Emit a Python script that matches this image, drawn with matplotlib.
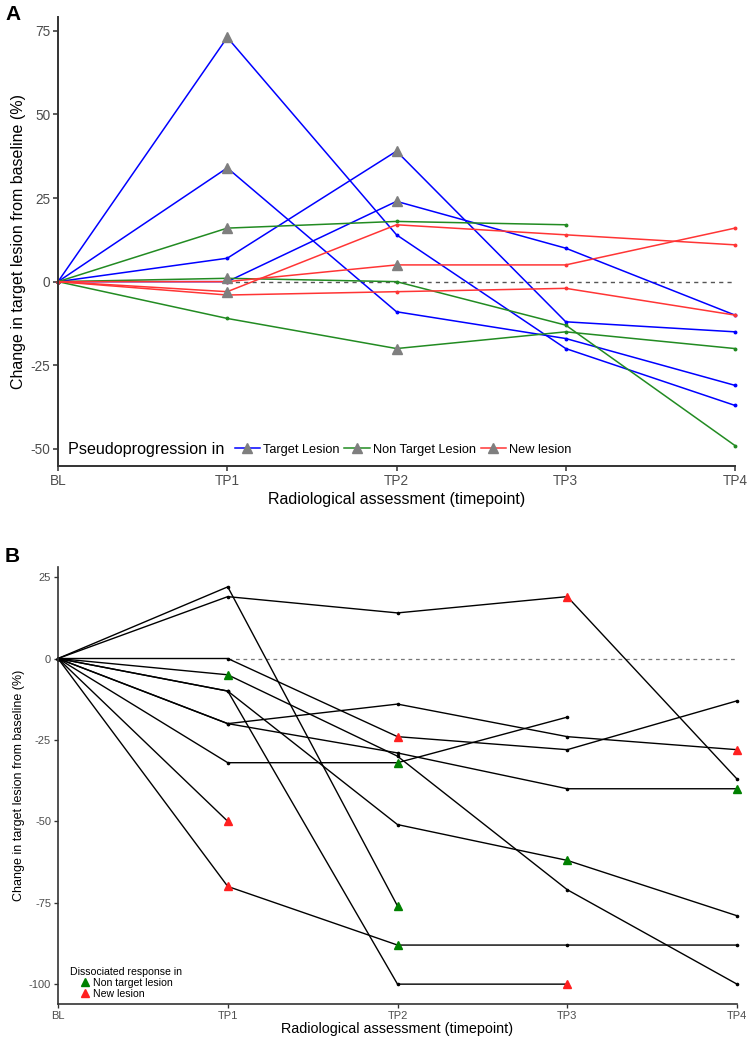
import matplotlib
matplotlib.use("Agg")
import matplotlib.pyplot as plt
from matplotlib.lines import Line2D

plt.rcParams['font.family'] = ['Liberation Sans', 'DejaVu Sans']
plt.rcParams['axes.unicode_minus'] = False

timepoints = ['BL', 'TP1', 'TP2', 'TP3', 'TP4']

# Panel A - pseudoprogression (triangle index = timepoint of pseudoprogression)
target_vals = [
    [0, 73, 14, -20, -37],
    [0, 34, -9, -17, -31],
    [0, 7, 39, -12, -15],
    [0, 0, 24, 10, -10],
]
target_tri = [[1], [1], [2], [2]]

nontarget_vals = [
    [0, 16, 18, 17],
    [0, 1, 0, -13, -49],
    [0, -11, -20, -15, -20],
]
nontarget_tri = [[1], [1], [2]]

newlesion_vals = [
    [0, -3, 17, 14, 11],
    [0, 0, 5, 5, 16],
    [0, -4, -3, -2, -10],
]
newlesion_tri = [[1], [2], []]

# Panel B - dissociated response
dissoc_vals = [
    [0, 22, -76],
    [0, 19, 14, 19, -37],
    [0, 0, -24, -28, -13],
    [0, -5, -30, -71, -100],
    [0, -10, -100, -100],
    [0, -10, -51, -62, -79],
    [0, -20, -14, -24, -28],
    [0, -20, -29, -40, -40],
    [0, -32, -32, -18],
    [0, -50],
    [0, -70, -88, -88, -88],
]
# (patient, timepoint)
dissoc_nontarget = [(0, 2), (3, 1), (5, 3), (7, 4), (8, 2), (10, 2)]
dissoc_newlesion = [(1, 3), (2, 2), (4, 3), (6, 4), (9, 1), (10, 1)]

BLUE = '#0000FF'
GREEN = '#228B22'
RED = '#FF3535'
W, H = 749, 1038

fig = plt.figure(figsize=(W / 100, H / 100), dpi=100)


def style_axes(ax, lw, tick_size, tick_len):
    for s in ['top', 'right']:
        ax.spines[s].set_visible(False)
    for s in ['left', 'bottom']:
        ax.spines[s].set_linewidth(lw)
        ax.spines[s].set_color('#333333')
    ax.tick_params(colors='#333333', labelcolor='#4D4D4D', labelsize=tick_size,
                   length=tick_len, width=lw * 0.8, pad=2)
    ax.set_xlim(0, 4)
    ax.set_xticks(range(5))
    ax.set_xticklabels(timepoints)


# ---------------- Panel A ----------------
axA = fig.add_axes([58 / W, 1 - 466 / H, 677 / W, 449 / H])
axA.plot([1, 4], [0, 0], ls=(0, (3, 3)), color='#555555', lw=1.0, zorder=1)

groups = [(target_vals, target_tri, BLUE), (nontarget_vals, nontarget_tri, GREEN),
          (newlesion_vals, newlesion_tri, RED)]
for vals_list, tri_list, col in groups:
    for vals, tri in zip(vals_list, tri_list):
        x = list(range(len(vals)))
        axA.plot(x, vals, color=col, lw=1.1, marker='o', ms=1.8, zorder=2, clip_on=False)
for vals_list, tri_list, col in groups:
    for vals, tri in zip(vals_list, tri_list):
        for t in tri:
            axA.plot(t, vals[t], marker='^', ms=6.5, color='#7F7F7F', ls='none', zorder=4,
                     clip_on=False)

axA.set_ylim(-55.1, 79.1)
axA.set_yticks([-50, -25, 0, 25, 50, 75])
style_axes(axA, 1.4, 9.8, 3.5)
axA.set_ylabel('Change in target lesion from baseline (%)', fontsize=11.5, labelpad=3)
axA.set_xlabel('Radiological assessment (timepoint)', fontsize=11.5, labelpad=3)

axA.text(0.015, 0.036, 'Pseudoprogression in', transform=axA.transAxes, fontsize=11.6,
         va='center', ha='left')
handlesA = [Line2D([], [], color=c, lw=1.1, marker='^', ms=6.5, markerfacecolor='#7F7F7F',
                   markeredgecolor='#7F7F7F') for c in (BLUE, GREEN, RED)]
axA.legend(handlesA, ['Target Lesion', 'Non Target Lesion', 'New lesion'], ncol=3,
           loc='center left', bbox_to_anchor=(0.261, 0.036), frameon=False, fontsize=9.2,
           handlelength=2.0, handletextpad=0.2, columnspacing=0.4, borderaxespad=0,
           borderpad=0)

fig.text(5 / W, 1 - 15 / H, 'A', fontsize=15, fontweight='bold', va='center', ha='left')

# ---------------- Panel B ----------------
axB = fig.add_axes([58 / W, 1 - 1004 / H, 679 / W, 437 / H])
axB.plot([1, 4], [0, 0], ls=(0, (3, 3)), color='#777777', lw=0.9, zorder=1)
for vals in dissoc_vals:
    x = list(range(len(vals)))
    axB.plot(x, vals, color='black', lw=1.0, marker='o', ms=1.6, zorder=2, clip_on=False)
for p, t in dissoc_nontarget:
    axB.plot(t, dissoc_vals[p][t], marker='^', ms=5.5, color='#008000', ls='none',
             zorder=4, clip_on=False)
for p, t in dissoc_newlesion:
    axB.plot(t, dissoc_vals[p][t], marker='^', ms=5.5, color='#FF2020', ls='none',
             zorder=4, clip_on=False)

axB.set_ylim(-106.1, 28.1)
axB.set_yticks([-100, -75, -50, -25, 0, 25])
style_axes(axB, 1.2, 8, 3)
axB.set_ylabel('Change in target lesion from baseline (%)', fontsize=9, labelpad=3)
axB.set_xlabel('Radiological assessment (timepoint)', fontsize=10.4, labelpad=1)

handlesB = [Line2D([], [], ls='none', marker='^', ms=5.5, color=c) for c in ('#008000', '#FF2020')]
axB.legend(handlesB, ['Non target lesion', 'New lesion'], title='Dissociated response in',
           loc='lower left', bbox_to_anchor=(0.018, 0.012), frameon=False, fontsize=7.6,
           title_fontsize=7.6, handlelength=1.0, handletextpad=0.2, labelspacing=0.1,
           borderaxespad=0, borderpad=0)

fig.text(5 / W, 1 - 556 / H, 'B', fontsize=15, fontweight='bold', va='center', ha='left')

fig.savefig('out.png', dpi=100)
